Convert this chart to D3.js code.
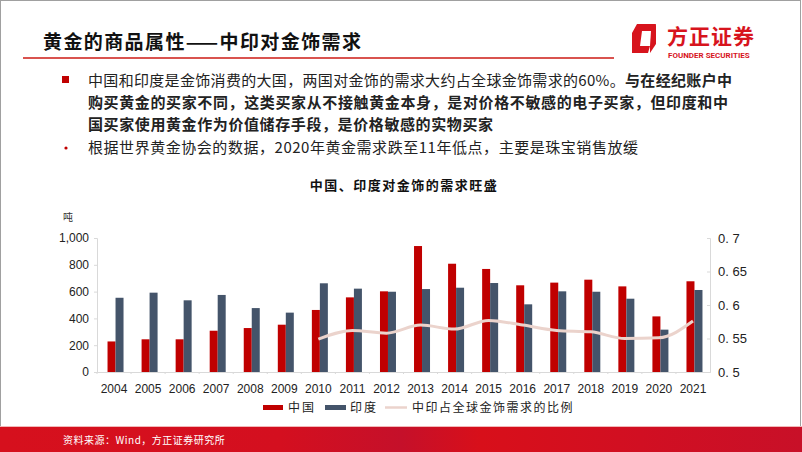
<!DOCTYPE html>
<html><head><meta charset="utf-8">
<script src="https://cdn.jsdelivr.net/npm/d3@7"></script>
<style>
html,body{margin:0;padding:0;background:#fff;}
svg{display:block;font-family:"Noto Sans CJK SC","Noto Sans",sans-serif;}
</style></head>
<body>
<svg id="c" width="802" height="452"></svg>
<script>
const years = ["2004","2005","2006","2007","2008","2009","2010","2011","2012","2013","2014","2015","2016","2017","2018","2019","2020","2021"];
const china = [228,244,244,308,328,353,463,557,602,940,808,769,647,667,689,639,415,677];
const india = [554,592,535,575,477,443,662,622,599,619,629,664,505,602,599,547,316,612];
const ratioYears = ["2010","2011","2012","2013","2014","2015","2016","2017","2018","2019","2020","2021"];
const ratio = [0.549,0.562,0.558,0.570,0.564,0.577,0.570,0.562,0.560,0.550,0.551,0.576];
const leftTicks = [0,200,400,600,800,1000];
const rightTicks = [0.5,0.55,0.6,0.65,0.7];
const seriesNames = ["中国","印度","中印占全球金饰需求的比例"];

const svg = d3.select("#c");
const W = 802, H = 452;
const cRed = "#c00000", cBlue = "#44546a", cLine = "#ebd3cc";

// frame
svg.append("rect").attr("x",0.5).attr("y",0.5).attr("width",W-2).attr("height",H-1)
  .attr("fill","none").attr("stroke","#a0a0a0").attr("stroke-width",1);

// header
svg.append("text").attr("x",43).attr("y",49).attr("font-size",19).attr("font-weight","bold")
  .attr("fill","#111").attr("letter-spacing",1.4).text("黄金的商品属性——中印对金饰需求");
svg.append("line").attr("x1",23).attr("x2",614).attr("y1",58).attr("y2",58)
  .attr("stroke","#d9534f").attr("stroke-width",1.8);

// logo
const lg = svg.append("g");
lg.append("path").attr("d","M637,24 L656,24 L653,31 L642,31 L640,46 L650,46 L648,53 L632,53 L632,33 Z").attr("fill","#d7141d");
lg.append("path").attr("d","M656,24 L656,44 L650,53 L650,46 L651,31 Z").attr("fill","#d7141d");
lg.append("text").attr("x",667).attr("y",44).attr("font-size",21).attr("font-weight","bold")
  .attr("fill","#d7141d").attr("letter-spacing",1).text("方正证券");
lg.append("text").attr("x",668).attr("y",58).attr("font-size",8).attr("font-weight","bold")
  .attr("fill","#d7141d").attr("font-family","Roboto, 'DejaVu Sans', sans-serif").text("FOUNDER SECURITIES");

// bullets
svg.append("rect").attr("x",62).attr("y",76).attr("width",7).attr("height",7).attr("fill","#c00000");
svg.append("circle").attr("cx",66).attr("cy",148).attr("r",1.6).attr("fill","#c00000");
const tstyle = (t,len)=>t.attr("font-size",15).attr("fill","#222")
  .attr("textLength",len).attr("lengthAdjust","spacing");
const l1 = tstyle(svg.append("text").attr("x",88).attr("y",86),644);
l1.append("tspan").text("中国和印度是金饰消费的大国，两国对金饰的需求大约占全球金饰需求的60%。");
l1.append("tspan").attr("font-weight","bold").text("与在经纪账户中");
tstyle(svg.append("text").attr("x",88).attr("y",108),640).attr("font-weight","bold")
  .text("购买黄金的买家不同，这类买家从不接触黄金本身，是对价格不敏感的电子买家，但印度和中");
tstyle(svg.append("text").attr("x",88).attr("y",130),405).attr("font-weight","bold")
  .text("国买家使用黄金作为价值储存手段，是价格敏感的实物买家");
tstyle(svg.append("text").attr("x",88).attr("y",153),550)
  .text("根据世界黄金协会的数据，2020年黄金需求跌至11年低点，主要是珠宝销售放缓");

// chart title
svg.append("text").attr("x",404).attr("y",190).attr("text-anchor","middle").attr("font-size",13)
  .attr("font-weight","bold").attr("fill","#111").attr("letter-spacing",1.5).text("中国、印度对金饰的需求旺盛");
svg.append("text").attr("x",63).attr("y",221).attr("font-size",10).attr("fill","#333").text("吨");

// scales
const x0 = 97, x1 = 710, yTop = 238, yBot = 372;
const x = d3.scaleBand().domain(years).range([x0,x1]).paddingInner(0).paddingOuter(0);
const sub = d3.scaleBand().domain(["c","i"]).range([0,16]);
const yL = d3.scaleLinear().domain([0,1000]).range([yBot,yTop]);
const yR = d3.scaleLinear().domain([0.5,0.7]).range([yBot,yTop]);
const off = x.bandwidth()/2 - 6.5;

// axes
const axL = svg.append("g").attr("transform",`translate(${x0},0)`)
  .call(d3.axisLeft(yL).tickValues(leftTicks).tickSize(3).tickPadding(5).tickFormat(d3.format(",")));
const axR = svg.append("g").attr("transform",`translate(${x1},0)`)
  .call(d3.axisRight(yR).tickValues(rightTicks).tickSize(-3).tickPadding(8).tickFormat(d=>d3.format("")(d).replace(".",". ")));
const axB = svg.append("g").attr("transform",`translate(0,${yBot})`)
  .call(d3.axisBottom(x).tickSize(0).tickPadding(12));
[axL,axR,axB].forEach(a=>{
  a.select(".domain").attr("stroke","#d9d9d9");
  a.selectAll(".tick line").attr("stroke","#d9d9d9");
  a.selectAll("text").attr("fill","#222").attr("font-size",12).attr("font-family","Arial, 'Liberation Sans', sans-serif");
});
axR.selectAll("text").attr("font-size",13);
axB.selectAll(".div").data(years).enter().append("line")
  .attr("x1",d=>x(d)).attr("x2",d=>x(d)).attr("y1",0).attr("y2",2).attr("stroke","#d9d9d9");

// bars
svg.append("g").selectAll("rect").data(years).enter().append("rect")
  .attr("x",d=>x(d)+off+sub("c")).attr("width",sub.bandwidth())
  .attr("y",(d,i)=>yL(china[i])).attr("height",(d,i)=>yBot-yL(china[i])).attr("fill",cRed);
svg.append("g").selectAll("rect").data(years).enter().append("rect")
  .attr("x",d=>x(d)+off+sub("i")).attr("width",sub.bandwidth())
  .attr("y",(d,i)=>yL(india[i])).attr("height",(d,i)=>yBot-yL(india[i])).attr("fill",cBlue);

// line
const line = d3.line().x((d,i)=>x(ratioYears[i])+x.bandwidth()/2).y(d=>yR(d)).curve(d3.curveMonotoneX);
svg.append("path").datum(ratio).attr("d",line).attr("fill","none").attr("stroke",cLine).attr("stroke-width",3);

// legend
const lgd = svg.append("g").attr("font-size",12).attr("fill","#222");
lgd.append("rect").attr("x",263).attr("y",405).attr("width",20).attr("height",5).attr("fill",cRed);
lgd.append("text").attr("x",288).attr("y",412).attr("letter-spacing",2).text(seriesNames[0]);
lgd.append("rect").attr("x",325).attr("y",405).attr("width",21).attr("height",5).attr("fill",cBlue);
lgd.append("text").attr("x",350).attr("y",412).attr("letter-spacing",2).text(seriesNames[1]);
lgd.append("line").attr("x1",385).attr("x2",407).attr("y1",407.5).attr("y2",407.5).attr("stroke",cLine).attr("stroke-width",2.5);
lgd.append("text").attr("x",412).attr("y",412).attr("letter-spacing",1.5).text(seriesNames[2]);

// footer
const grad = svg.append("defs").append("linearGradient").attr("id","fg");
[[0,"#d6101d"],[0.35,"#d40f1f"],[0.5,"#c5102a"],[0.6,"#d80f1a"],[0.8,"#d10f22"],[1,"#c81028"]]
  .forEach(([o,c])=>grad.append("stop").attr("offset",o).attr("stop-color",c));
svg.append("line").attr("x1",0).attr("x2",W).attr("y1",426.5).attr("y2",426.5).attr("stroke","#f2b8b8").attr("stroke-width",1);
svg.append("rect").attr("x",0).attr("y",427).attr("width",W).attr("height",25).attr("fill","url(#fg)");
svg.append("text").attr("x",63).attr("y",444).attr("font-size",10).attr("fill","#fff").attr("letter-spacing",0.5)
  .text("资料来源：Wind，方正证券研究所");
</script>
</body></html>
